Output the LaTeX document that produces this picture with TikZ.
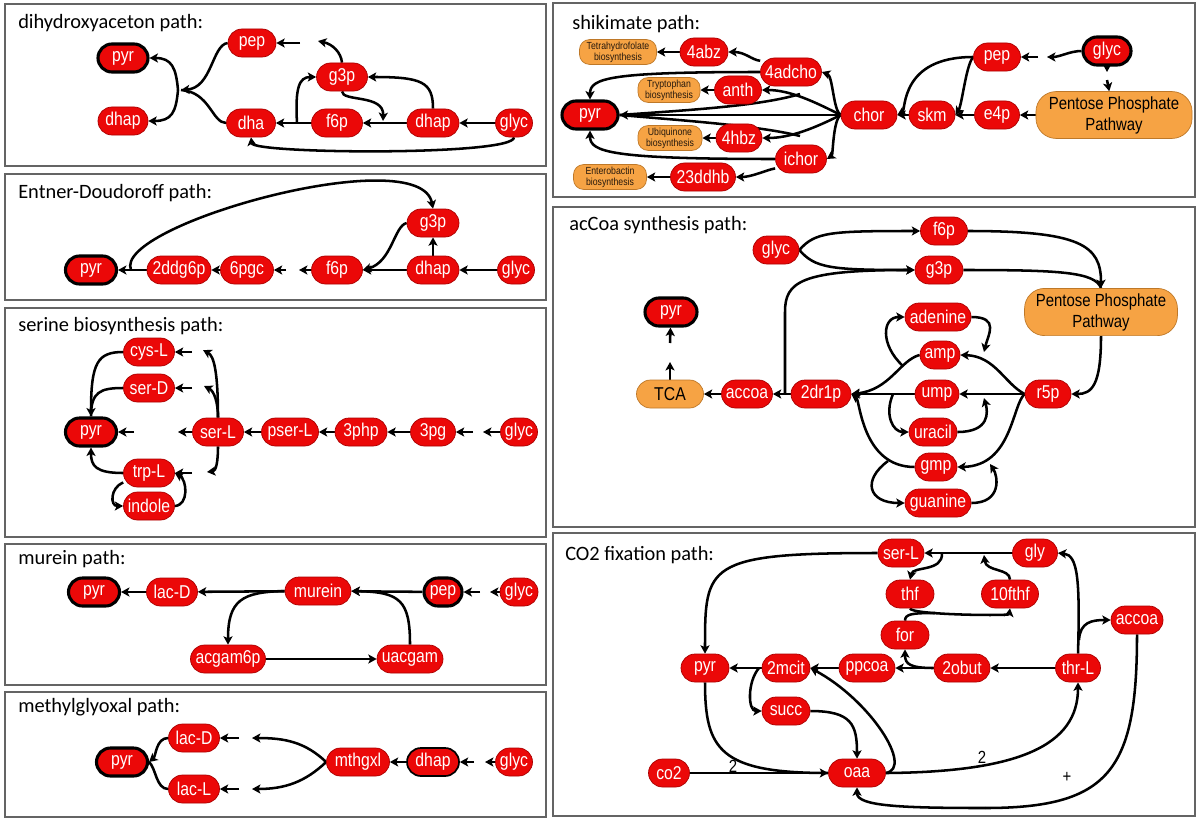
\documentclass[tikz,border=0pt]{standalone}
\usepackage{fontspec}
\setmainfont{Liberation Sans}
\newfontfamily\headfont{Carlito}
\newfontfamily\metfont[FakeStretch=0.85]{Liberation Sans}
\usepackage{xcolor}
\definecolor{metred}{RGB}{235, 8, 8}
\definecolor{metedge}{RGB}{170, 0, 0}
\definecolor{pathorange}{RGB}{246, 163, 68}
\definecolor{orangeedge}{RGB}{190, 120, 40}
\definecolor{framegray}{RGB}{100, 100, 100}
\usepackage{tikz}
\usetikzlibrary{arrows.meta}
\pgfdeclarelayer{back}
\pgfsetlayers{back,main}

\tikzset{
  met/.style={draw=metedge, line width=0.5pt, fill=metred, text=white, rounded corners=0.35cm,
    minimum height=0.7cm, inner xsep=2pt, inner ysep=0pt, font=\metfont\fontsize{13.2}{14}\selectfont},
  hubmet/.style={met, draw=black, line width=2.2pt},
  poolnode/.style={met, fill=pathorange, draw=orangeedge, text=black},
  wd/.style={minimum width=#1*0.025cm},
  sidepath/.style={fill=pathorange, draw=orangeedge, line width=0.5pt, text=black!80!brown,
    rounded corners=0.25cm, minimum height=0.62cm, align=center, inner sep=1pt,
    font=\metfont\fontsize{7.3}{8}\selectfont},
  ppp/.style={fill=pathorange, draw=orangeedge, line width=0.5pt, rounded corners=0.5cm,
    align=center, minimum width=3.9cm, minimum height=1.13cm, font=\metfont\fontsize{12.5}{15}\selectfont},
  rx/.style={line width=1.8pt, -{Stealth[length=6pt,width=6.5pt,inset=1.5pt]}},
  rxl/.style={line width=1.8pt},
  panelbox/.style={draw=framegray, line width=1pt},
  paneltitle/.style={anchor=base west, inner sep=0pt, font=\headfont\fontsize{14.5}{16}\selectfont},
  lbl/.style={inner sep=1pt, font=\metfont\fontsize{12.5}{13}\selectfont},
}

\begin{document}
\begin{tikzpicture}[x=0.025cm, y=-0.025cm]
\useasboundingbox (0,0) rectangle (1200,822);

\draw[panelbox] (5,4) rectangle (546,166);
\draw[panelbox] (5,174) rectangle (546,300);
\draw[panelbox] (5,308) rectangle (546,537);
\draw[panelbox] (5,544) rectangle (546,685);
\draw[panelbox] (5,692) rectangle (546,817);
\draw[panelbox] (553,3) rectangle (1195,197);
\draw[panelbox] (553,207) rectangle (1195,527);
\draw[panelbox] (553,533) rectangle (1195,816);

\node[paneltitle] (atitle) at (18,28) {dihydroxyaceton path:};
\node[paneltitle] (btitle) at (18,198) {Entner-Doudoroff path:};
\node[paneltitle] (ctitle) at (18,331) {serine biosynthesis path:};
\node[paneltitle] (dtitle) at (18,564) {murein path:};
\node[paneltitle] (etitle) at (18,712) {methylglyoxal path:};
\node[paneltitle] (ftitle) at (572,29) {shikimate path:};
\node[paneltitle] (gtitle) at (569,230) {acCoa synthesis path:};
\node[paneltitle] (htitle) at (565,560) {CO2 fixation path:};

% dihydroxyaceton
\node[hubmet, wd=50] (apyr) at (123,58) {pyr};
\node[met, wd=50] (adhap1) at (123,121) {dhap};
\node[met, wd=48] (apep) at (252,43) {pep};
\node[met, wd=51] (ag3p) at (342,77) {g3p};
\node[met, wd=49] (adha) at (251,123) {dha};
\node[met, wd=51] (af6p) at (337,123) {f6p};
\node[met, wd=52] (adhap) at (433,123) {dhap};
\node[met, wd=37] (aglyc) at (514,123) {glyc};
\coordinate (ajoin) at (181,90);
\coordinate (asplit) at (178,90);
\coordinate (aup) at (297,123);
\coordinate (adown) at (383,121);
\coordinate (acut) at (318,41);
\coordinate (astub) at (300,43);
\begin{pgfonlayer}{back}
\draw[rx] (aglyc) -- (adhap);
\draw[rx] (adhap) -- (af6p);
\draw[rx] (af6p) -- (adha);
\draw[rx] (aup) .. controls (295,88) and (299,77) .. (ag3p.west);
\draw[rx] (adhap.north) .. controls (433,82) and (422,77) .. (ag3p.east);
\draw[rx] (ag3p.south) .. controls (342,102) and (384,94) .. (adown);
\draw[rx] (ag3p.north) .. controls (341,52) and (332,44) .. (acut);
\draw[rx] (astub) -- (apep);
\draw[rx] (aglyc.south) .. controls (514,156) and (253,154) .. (adha.south);
\draw[rx] (apep.west) .. controls (212,45) and (212,88) .. (ajoin);
\draw[rxl] (adha.west) .. controls (212,123) and (210,92) .. (ajoin);
\draw[rx] (asplit) .. controls (176,68) and (172,58) .. (apyr.east);
\draw[rx] (asplit) .. controls (176,112) and (172,121) .. (adhap1.east);
\end{pgfonlayer}

% Entner-Doudoroff
\node[met, wd=52] (bg3p) at (433,223) {g3p};
\node[hubmet, wd=51] (bpyr) at (91,270) {pyr};
\node[met, wd=64] (b2ddg6p) at (179,270) {2ddg6p};
\node[met, wd=53] (b6pgc) at (247,270) {6pgc};
\node[met, wd=51] (bf6p) at (337,270) {f6p};
\node[met, wd=52] (bdhap) at (433,270) {dhap};
\node[met, wd=37] (bglyc) at (516,270) {glyc};
\coordinate (bcut) at (299,270);
\coordinate (bstub) at (286,270);
\coordinate (bsplit) at (131,270);
\begin{pgfonlayer}{back}
\draw[rx] (bglyc) -- (bdhap);
\draw[rx] (bdhap) -- (bf6p);
\draw[rx] (bdhap) -- (bg3p);
\draw[rx] (bg3p.west) .. controls (394,226) and (392,262) .. (bf6p.east);
\draw[rx] (bf6p) -- (bcut);
\draw[rx] (bstub) -- (b6pgc);
\draw[rx] (b6pgc) -- (b2ddg6p);
\draw[rx] (b2ddg6p) -- (bpyr);
\draw[rx] (bsplit) .. controls (112,225) and (420,140) .. (bg3p.north);
\end{pgfonlayer}

% serine biosynthesis
\node[met, wd=51] (ccys) at (149,352) {cys-L};
\node[met, wd=51] (cserD) at (149,388) {ser-D};
\node[hubmet, wd=51] (cpyr) at (91,432) {pyr};
\node[met, wd=51] (ctrp) at (149,473) {trp-L};
\node[met, wd=51] (cindole) at (149,506) {indole};
\node[met, wd=51] (cserL) at (218,432) {ser-L};
\node[met, wd=57] (cpser) at (290,432) {pser-L};
\node[met, wd=52] (c3php) at (361,432) {3php};
\node[met, wd=45] (c3pg) at (433,432) {3pg};
\node[met, wd=37] (cglyc) at (519,432) {glyc};
\coordinate (ccut0) at (483,432);
\coordinate (cstub0) at (473,432);
\coordinate (ccut1) at (178,432);
\coordinate (cstub1) at (134,432);
\coordinate (ccut2) at (203,350);
\coordinate (ccut3) at (204,386);
\coordinate (ccut4) at (207,472);
\coordinate (cstub2) at (192,352);
\coordinate (cstub3) at (192,388);
\coordinate (cstub4) at (192,473);
\begin{pgfonlayer}{back}
\draw[rx] (cglyc) -- (ccut0);
\draw[rx] (cstub0) -- (c3pg);
\draw[rx] (c3pg) -- (c3php);
\draw[rx] (c3php) -- (cpser);
\draw[rx] (cpser) -- (cserL);
\draw[rx] (cserL) -- (ccut1);
\draw[rx] (cstub1) -- (cpyr);
\draw[rx] (cserL.north) .. controls (218,372) and (214,356) .. (ccut2);
\draw[rx] (cserL.north) .. controls (218,402) and (214,391) .. (ccut3);
\draw[rx] (cserL.south) .. controls (218,462) and (216,471) .. (ccut4);
\draw[rx] (cstub2) -- (ccys);
\draw[rx] (cstub3) -- (cserD);
\draw[rx] (cstub4) -- (ctrp);
\draw[rx] (ccys.west) .. controls (98,352) and (91,362) .. (cpyr.north);
\draw[rxl] (cserD.west) .. controls (100,388) and (91,392) .. (cpyr.north);
\draw[rx] (ctrp.west) .. controls (96,473) and (91,466) .. (cpyr.south);
\draw[rx] (ctrp.200) .. controls (110,488) and (110,506) .. (cindole.west);
\draw[rx] (cindole.east) .. controls (189,505) and (187,480) .. (ctrp.east);
\end{pgfonlayer}

% murein
\node[hubmet, wd=51] (dpyr) at (94,592) {pyr};
\node[met, wd=51] (dlac) at (172,592) {lac-D};
\node[met, wd=66] (dmurein) at (318,591) {murein};
\node[hubmet, wd=38] (dpep) at (443,592) {pep};
\node[met, wd=38] (dglyc) at (519,592) {glyc};
\node[met, wd=75] (dacgam) at (228,659) {acgam6p};
\node[met, wd=66] (duacgam) at (410,659) {uacgam};
\coordinate (dcut) at (490,592);
\coordinate (dstub) at (480,592);
\begin{pgfonlayer}{back}
\draw[rx] (dglyc) -- (dcut);
\draw[rx] (dstub) -- (dpep);
\draw[rx] (dpep) -- (dmurein);
\draw[rx] (dmurein) -- (dlac);
\draw[rx] (dlac) -- (dpyr);
\draw[rx] (dmurein.west) .. controls (242,592) and (228,600) .. (dacgam.north);
\draw[rx] (dacgam) -- (duacgam);
\draw[rx] (duacgam.north) .. controls (410,600) and (400,592) .. (dmurein.east);
\end{pgfonlayer}

% methylglyoxal
\node[hubmet, wd=51] (epyr) at (122,762) {pyr};
\node[met, wd=51] (elacD) at (194,738) {lac-D};
\node[met, wd=51] (elacL) at (194,789) {lac-L};
\node[met, wd=63] (emthgxl) at (358,762) {mthgxl};
\node[met, draw=black, line width=1.2pt, wd=52] (edhap) at (433,762) {dhap};
\node[met, wd=37] (eglyc) at (514,762) {glyc};
\coordinate (ecut0) at (485,762);
\coordinate (estub0) at (474,762);
\coordinate (ecut1) at (252,738);
\coordinate (ecut2) at (252,789);
\coordinate (estub1) at (239,738);
\coordinate (estub2) at (239,789);
\begin{pgfonlayer}{back}
\draw[rx] (eglyc) -- (ecut0);
\draw[rx] (estub0) -- (edhap);
\draw[rx] (edhap) -- (emthgxl);
\draw[rx] (emthgxl.west) .. controls (305,742) and (285,738) .. (ecut1);
\draw[rx] (emthgxl.west) .. controls (305,782) and (285,789) .. (ecut2);
\draw[rx] (estub1) -- (elacD);
\draw[rx] (estub2) -- (elacL);
\draw[rx] (elacD.west) .. controls (156,738) and (156,756) .. (epyr.east);
\draw[rxl] (elacL.west) .. controls (156,789) and (156,768) .. (epyr.east);
\end{pgfonlayer}

% shikimate
\node[sidepath, wd=77] (fthf) at (618,52) {Tetrahydrofolate\\biosynthesis};
\node[met, wd=48] (f4abz) at (704,52) {4abz};
\node[met, wd=61] (f4adcho) at (791,72) {4adcho};
\node[sidepath, wd=62] (ftrp) at (669,90) {Tryptophan\\biosynthesis};
\node[met, wd=47] (fanth) at (738,90) {anth};
\node[hubmet, wd=56] (fpyr) at (590,115) {pyr};
\node[sidepath, wd=64] (fubi) at (670,138) {Ubiquinone\\biosynthesis};
\node[met, wd=46] (f4hbz) at (739,138) {4hbz};
\node[met, wd=51] (fichor) at (801,159) {ichor};
\node[sidepath, wd=73] (fent) at (610,177) {Enterobactin\\biosynthesis};
\node[met, wd=65] (f23ddhb) at (703,177) {23ddhb};
\node[met, wd=56] (fchor) at (869,115) {chor};
\node[met, wd=46] (fskm) at (932,115) {skm};
\node[met, wd=45] (fe4p) at (997,115) {e4p};
\node[ppp] (fppp) at (1114,115) {Pentose Phosphate\\Pathway};
\node[met, wd=47] (fpep) at (997,57) {pep};
\node[hubmet, wd=48] (fglyc) at (1107,51) {glyc};
\coordinate (fcut0) at (1047,57);
\coordinate (fstub0) at (1038,57);
\coordinate (fcut1) at (1107,72);
\coordinate (fstub1) at (1107,80);
\coordinate (fbr1) at (800,94);
\coordinate (fbr2) at (800,136);
\begin{pgfonlayer}{back}
\draw[rx] (fglyc.west) .. controls (1070,51) and (1060,57) .. (fcut0);
\draw[rx] (fstub0) -- (fpep);
\draw[rx] (fglyc) -- (fcut1);
\draw[rx] (fstub1) -- (fppp);
\draw[rx] (fppp) -- (fe4p);
\draw[rx] (fe4p) -- (fskm);
\draw[rx] (fskm) -- (fchor);
\draw[rx] (fpep.west) .. controls (900,57) and (906,110) .. (fchor.east);
\draw[rx] (fpep.west) .. controls (966,65) and (962,105) .. (fskm.east);
\draw[rx] (fchor) -- (fpyr);
\draw[rx] (fchor.west) .. controls (833,110) and (833,76) .. (f4adcho.east);
\draw[rx] (fchor.west) .. controls (833,120) and (833,155) .. (fichor.east);
\draw[rx] (fchor.west) .. controls (815,102) and (790,90) .. (fanth.east);
\draw[rxl] (fbr1) .. controls (760,106) and (690,110) .. (fpyr.east);
\draw[rx] (fchor.west) .. controls (815,128) and (790,138) .. (f4hbz.east);
\draw[rxl] (fbr2) .. controls (760,126) and (690,121) .. (fpyr.east);
\draw[rx] (f4adcho.west) .. controls (610,72) and (590,78) .. (fpyr.north);
\draw[rx] (fichor.west) .. controls (610,159) and (590,152) .. (fpyr.south);
\draw[rx] (f4adcho.160) .. controls (752,60) and (745,52) .. (f4abz.east);
\draw[rx] (fichor.200) .. controls (766,170) and (752,177) .. (f23ddhb.east);
\draw[rx] (f4abz) -- (fthf);
\draw[rx] (fanth) -- (ftrp);
\draw[rx] (f4hbz) -- (fubi);
\draw[rx] (f23ddhb) -- (fent);
\end{pgfonlayer}

% acCoa synthesis
\node[met, wd=46] (gglyc) at (776,250) {glyc};
\node[met, wd=47] (gf6p) at (944,231) {f6p};
\node[met, wd=48] (gg3p) at (939,270) {g3p};
\node[hubmet, wd=52] (gpyr) at (671,312) {pyr};
\node[ppp, minimum width=3.82cm, minimum height=1.18cm] (gppp) at (1101,312) {Pentose Phosphate\\Pathway};
\node[met, wd=66] (gadenine) at (938,317) {adenine};
\node[met, wd=40] (gamp) at (940,355) {amp};
\node[poolnode, wd=67] (gtca) at (670,394) {TCA};
\node[met, wd=51] (gaccoa) at (747,394) {accoa};
\node[met, wd=60] (g2dr1p) at (821,394) {2dr1p};
\node[met, wd=44] (gump) at (937,394) {ump};
\node[met, wd=46] (gr5p) at (1048,394) {r5p};
\node[met, wd=48] (guracil) at (933,432) {uracil};
\node[met, wd=42] (ggmp) at (936,467) {gmp};
\node[met, wd=66] (gguanine) at (938,503) {guanine};
\coordinate (gcut) at (670,362);
\coordinate (gstub) at (670,343);
\coordinate (gbr0) at (785,394);
\coordinate (gbrA) at (903,366);
\coordinate (gbrU) at (893,394);
\coordinate (gbrG) at (888,461);
\coordinate (gcutA) at (984,352);
\coordinate (gcutU) at (984,398);
\coordinate (gcutG) at (990,464);
\begin{pgfonlayer}{back}
\draw[rx] (gglyc.east) .. controls (815,232) and (830,231) .. (gf6p.west);
\draw[rx] (gglyc.east) .. controls (815,268) and (830,270) .. (gg3p.west);
\draw[rx] (gbr0) -- (785,312) .. controls (785,282) and (800,270) .. (gg3p.west);
\draw[rx] (gf6p.east) .. controls (1080,231) and (1101,245) .. (gppp.north);
\draw[rxl] (gg3p.east) .. controls (1060,270) and (1095,272) .. (gppp.north);
\draw[rx] (gppp.south) .. controls (1101,385) and (1092,394) .. (gr5p.east);
\draw[rx] (gr5p) -- (gump);
\draw[rx] (gump) -- (g2dr1p);
\draw[rx] (g2dr1p) -- (gaccoa);
\draw[rx] (gaccoa) -- (gtca);
\draw[rx] (gtca) -- (gcut);
\draw[rx] (gstub) -- (gpyr);
\draw[rx] (gr5p.west) .. controls (1005,384) and (995,356) .. (gamp.east);
\draw[rx] (gr5p.west) .. controls (1012,405) and (1012,466) .. (ggmp.east);
\draw[rx] (gadenine.east) .. controls (1000,317) and (988,335) .. (gcutA);
\draw[rx] (gamp.west) .. controls (900,360) and (890,390) .. (g2dr1p.east);
\draw[rx] (gbrA) .. controls (880,345) and (882,317) .. (gadenine.west);
\draw[rx] (gbrU) .. controls (884,415) and (893,432) .. (guracil.west);
\draw[rx] (guracil.east) .. controls (990,432) and (988,412) .. (gcutU);
\draw[rx] (ggmp.west) .. controls (862,467) and (860,400) .. (g2dr1p.east);
\draw[rx] (gbrG) .. controls (862,480) and (868,503) .. (gguanine.west);
\draw[rx] (gguanine.east) .. controls (1002,503) and (998,476) .. (gcutG);
\end{pgfonlayer}

% CO2 fixation
\node[met, wd=46] (hserL) at (901,553) {ser-L};
\node[met, wd=45] (hgly) at (1035,553) {gly};
\node[met, wd=48] (hthf) at (910,594) {thf};
\node[met, wd=57] (h10fthf) at (1010,594) {10fthf};
\node[met, wd=48] (hfor) at (905,635) {for};
\node[met, wd=52] (haccoa) at (1137,620) {accoa};
\node[met, wd=48] (hpyr) at (705,668) {pyr};
\node[met, wd=48] (h2mcit) at (786,668) {2mcit};
\node[met, wd=56] (hppcoa) at (867,668) {ppcoa};
\node[met, wd=56] (h2obut) at (962,668) {2obut};
\node[met, wd=45] (hthrL) at (1078,668) {thr-L};
\node[met, wd=48] (hsucc) at (786,711) {succ};
\node[met, wd=41] (hco2) at (669,773) {co2};
\node[met, wd=57] (hoaa) at (857,773) {oaa};
\coordinate (hbrT) at (942,553);
\coordinate (hcutF) at (984,555);
\coordinate (hjoinF) at (935,613);
\coordinate (hbrS) at (759,668);
\coordinate (hbrA) at (1079,640);
\coordinate (hbot) at (985,808);
\begin{pgfonlayer}{back}
\draw[rx] (hgly) -- (hserL);
\draw[rx] (hserL.west) .. controls (705,553) and (705,565) .. (hpyr.north);
\draw[rx] (hbrT) .. controls (943,572) and (913,566) .. (hthf.north);
\draw[rx] (h10fthf.north) .. controls (1010,568) and (986,572) .. (hcutF);
\draw[rx] (hthf.south) .. controls (911,615) and (1009,616) .. (h10fthf.south);
\draw[rxl] (hfor.north) .. controls (905,614) and (912,613) .. (hjoinF);
\draw[rx] (h2obut.west) .. controls (910,668) and (905,664) .. (hfor.south);
\draw[rx] (hthrL) -- (h2obut);
\draw[rx] (h2obut) -- (hppcoa);
\draw[rx] (hppcoa) -- (h2mcit);
\draw[rx] (h2mcit) -- (hpyr);
\draw[rx] (hbrS) .. controls (747,682) and (748,711) .. (hsucc.west);
\draw[rx] (hsucc.east) .. controls (852,711) and (857,725) .. (hoaa.north);
\draw[rx] (hoaa.east) .. controls (914,768) and (870,700) .. (h2mcit.east);
\draw[rx] (hoaa.east) .. controls (1020,772) and (1078,745) .. (hthrL.south);
\draw[rx] (hthrL.north) .. controls (1080,580) and (1078,555) .. (hgly.east);
\draw[rx] (hbrA) .. controls (1080,622) and (1092,620) .. (haccoa.west);
\draw[rxl] (haccoa.south) .. controls (1137,770) and (1110,808) .. (hbot);
\draw[rx] (hbot) .. controls (900,808) and (857,806) .. (hoaa.south);
\draw[rxl] (hpyr.south) .. controls (705,750) and (720,773) .. (hoaa.west);
\draw[rx] (hco2) -- (hoaa);
\end{pgfonlayer}
\node[lbl] (htwoA) at (733,766) {2};
\node[lbl] (htwoB) at (982,757) {2};
\node[lbl] (hplus) at (1067,777) {+};
\end{tikzpicture}
\end{document}
